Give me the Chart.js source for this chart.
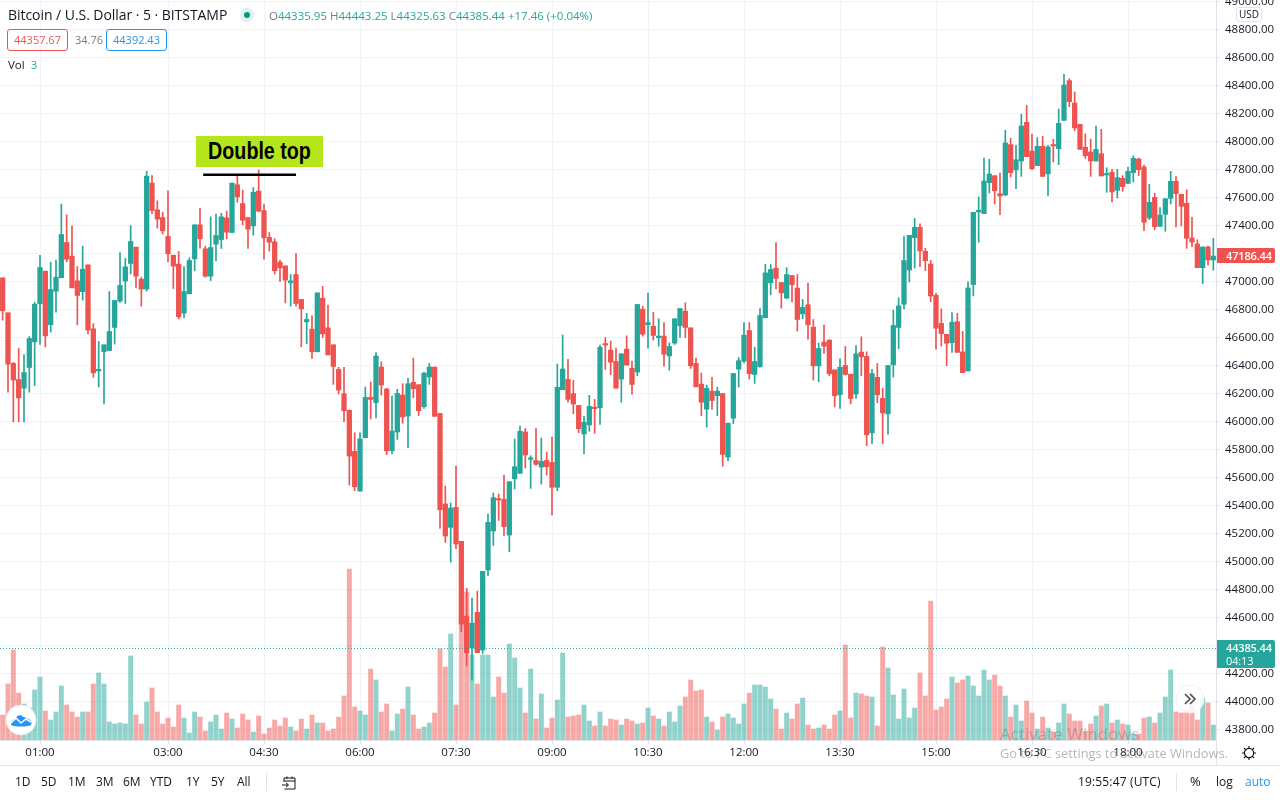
<!DOCTYPE html>
<html>
<head>
<meta charset="utf-8">
<title>Bitcoin / U.S. Dollar</title>
<script src="https://cdn.jsdelivr.net/npm/chart.js@4/dist/chart.umd.min.js"></script>
<style>
  html, body { margin: 0; padding: 0; background: #fff; overflow: hidden; }
  #wrap { position: relative; width: 1280px; height: 800px; font-family: "Open Sans", sans-serif; color: #131722; }
  #chart { position: absolute; left: 0; top: 0; }
  .t { position: absolute; white-space: nowrap; line-height: 1; }
  .box { position: absolute; box-sizing: border-box; border-radius: 3px; font-size: 11px; text-align: center; }
  .rule { position: absolute; background: #e0e3eb; }
  .range { top: 776px; font-size: 12px; color: #131722; }
  .teal { color: #26a69a; }
  .gray { color: #787b86; }
</style>
</head>
<body>
<div id="wrap">
  <canvas id="chart" width="1280" height="800"></canvas>

  <div class="t" style="left:8px;top:8px;font-size:14px;letter-spacing:-0.05px">Bitcoin / U.S. Dollar · 5 · BITSTAMP</div>
  <div style="position:absolute;left:240px;top:8px;width:14px;height:14px;border-radius:50%;background:#dff2ef"></div>
  <div style="position:absolute;left:244px;top:12px;width:6px;height:6px;border-radius:50%;background:#089981"></div>
  <div class="t" style="left:269px;top:10px;font-size:11.5px">
    <span class="gray">O</span><span class="teal">44335.95</span>
    <span class="gray">H</span><span class="teal">44443.25</span>
    <span class="gray">L</span><span class="teal">44325.63</span>
    <span class="gray">C</span><span class="teal">44385.44</span>
    <span class="teal">+17.46 (+0.04%)</span>
  </div>
  <div class="box" style="left:7px;top:29px;width:61px;height:22px;line-height:20px;border:1px solid #ef5350;color:#ef5350">44357.67</div>
  <div class="t gray" style="left:75px;top:34px;font-size:11px">34.76</div>
  <div class="box" style="left:106px;top:29px;width:61px;height:22px;line-height:20px;border:1px solid #2196f3;color:#2196f3">44392.43</div>
  <div class="t" style="left:8px;top:59px;font-size:11.5px">Vol <span class="teal" style="margin-left:3px">3</span></div>

  <div style="position:absolute;left:196px;top:136px;width:127px;height:31px;background:#b5e61d"></div>
  <div class="t" style="left:196px;top:136px;width:127px;height:31px;text-align:center;font:bold 24px/30px 'Liberation Sans',sans-serif;color:#000;transform:scaleX(0.82);transform-origin:center">Double top</div>

  <div class="box" style="left:1236px;top:7px;width:26px;height:15px;line-height:13px;font-size:10px;border:1px solid #e0e3eb;background:#fff">USD</div>

  <div class="box" style="left:1217px;top:248px;width:58px;height:15px;line-height:15px;font-size:11px;font-weight:600;background:#ef5350;color:#fff;border-radius:0 2px 2px 0;text-align:left;padding-left:9px;letter-spacing:-0.15px">47186.44</div>
  <div class="box" style="left:1217px;top:640px;width:58px;height:28px;background:#26a69a;color:#fff;font-size:11px;font-weight:600;line-height:13px;padding-top:1px;border-radius:0 2px 2px 0;text-align:left;padding-left:9px;letter-spacing:-0.15px">44385.44<br><span style="font-weight:400">04:13</span></div>

  <svg style="position:absolute;left:5px;top:704px" width="32" height="32">
    <circle cx="16" cy="16" r="15" fill="#fff" stroke="#e8eaf0"/>
    <path d="M6 21 C6 17 8 15 10 15 C12 11 16 10 18 13 C20 13 22 14 23 15 C26 15 27 18 26 21 C22 23 10 23 6 21 Z" fill="#2196f3"/>
    <path d="M6 19 L11 14 L16 19 L21 15 L26 18" fill="none" stroke="#fff" stroke-width="1.5"/>
  </svg>
  <svg style="position:absolute;left:1175px;top:684px" width="30" height="30">
    <circle cx="15" cy="15" r="14" fill="#fff" fill-opacity="0.85" stroke="#eef0f4"/>
    <path d="M10 10 L15 15 L10 20 M15 10 L20 15 L15 20" fill="none" stroke="#4a4e59" stroke-width="1.6"/>
  </svg>

  <div class="rule" style="left:1216px;top:740px;width:1px;height:25px"></div>
  <div class="rule" style="left:0;top:765px;width:1280px;height:1px"></div>
  <svg style="position:absolute;left:1241px;top:745px" width="16" height="16">
    <circle cx="8" cy="8" r="4.6" fill="none" stroke="#131722" stroke-width="1.2"/>
    <path d="M8 1V3.4M8 12.6V15M1 8H3.4M12.6 8H15M3 3L4.8 4.8M11.2 11.2L13 13M13 3L11.2 4.8M4.8 11.2L3 13" stroke="#131722" stroke-width="1.2"/>
  </svg>

  <div class="t range" style="left:15px">1D</div>
  <div class="t range" style="left:41px">5D</div>
  <div class="t range" style="left:68px">1M</div>
  <div class="t range" style="left:96px">3M</div>
  <div class="t range" style="left:123px">6M</div>
  <div class="t range" style="left:150px">YTD</div>
  <div class="t range" style="left:186px">1Y</div>
  <div class="t range" style="left:211px">5Y</div>
  <div class="t range" style="left:237px">All</div>
  <div class="rule" style="left:266px;top:773px;width:1px;height:18px"></div>
  <svg style="position:absolute;left:281px;top:775px" width="16" height="15">
    <path d="M3 7V3H14V14H3.5M3 6H14M6 1.5V4M11 1.5V4M1 10H7M5 8L7.5 10L5 12" fill="none" stroke="#131722" stroke-width="1"/>
  </svg>
  <div class="t" style="left:1078px;top:776px;font-size:12px;letter-spacing:0.15px">19:55:47 (UTC)</div>
  <div class="rule" style="left:1176px;top:773px;width:1px;height:18px"></div>
  <div class="t" style="left:1190px;top:775px;font-size:13px">%</div>
  <div class="t" style="left:1216px;top:776px;font-size:12px">log</div>
  <div class="t" style="left:1245px;top:776px;font-size:12px;color:#2196f3">auto</div>

  <div class="t" style="left:1000px;top:725px;font-size:17px;color:rgba(110,110,110,0.38)">Activate Windows</div>
  <div class="t" style="left:1000px;top:747px;font-size:12.8px;color:rgba(110,110,110,0.5)">Go to PC settings to activate Windows.</div>
</div>

<script>
var tickLabels = ["01:00", "03:00", "04:30", "06:00", "07:30", "09:00", "10:30", "12:00", "13:30", "15:00", "16:30", "18:00"];

var opens = [
  47026,46777,46415,46300,46238,46386,46569,46841,47074,46691,
  46931,47027,47279,47181,47005,46927,47119,46662,46362,46498,
  46507,46672,46860,47003,47129,47246,47017,46946,47703,47512,
  47457,47322,47188,47124,46774,46912,47162,47405,47234,47038,
  47267,47300,47455,47350,47691,47557,47457,47398,47646,47507,
  47315,47284,47138,47112,46991,47050,46872,46712,46660,46498,
  46881,46669,46548,46372,46199,46080,45787,45503,45884,46172,
  46134,46389,46232,45791,45925,46189,46039,46280,46263,46106,
  46318,46389,46058,45411,45244,45387,45144,44610,44382,44637,
  44368,44939,45218,45449,45444,45189,45591,45630,45925,45730,
  45722,45675,45722,45708,45530,46227,46301,46199,46115,45911,
  45975,46099,46099,46553,46510,46429,46303,46517,46381,46353,
  46803,46691,46681,46598,46610,46469,46560,46684,46788,46669,
  46415,46267,46088,46217,46184,46200,45746,46024,46374,46431,
  46650,46336,46391,46741,46991,47096,46993,46881,47043,46953,
  46769,46834,46674,46398,46567,46581,46369,46191,46400,46338,
  46196,46496,46465,45919,46315,46165,46055,46405,46672,46838,
  47082,47313,47387,47216,47125,46901,46701,46623,46563,46713,
  46497,46361,46978,47497,47485,47706,47756,47628,47618,47978,
  47797,47861,48137,47932,47828,47966,47770,47975,47949,48151,
  48435,48275,48123,47959,47925,47861,47913,47761,47780,47651,
  47737,47701,47778,47875,47818,47454,47601,47394,47480,47594,
  47716,47623,47559,47311,47268,47099,47247,47154
];
var closes = [
  46791,46410,46296,46169,46350,46593,46838,47100,46612,46943,
  47031,47336,47160,46955,46900,47088,46653,46348,46369,46548,
  46643,46865,46972,47105,47286,47038,46946,47753,47507,47446,
  47362,47198,47110,46748,46929,47150,47405,47305,47038,47243,
  47329,47462,47353,47703,47605,47438,47374,47638,47503,47312,
  47281,47077,47098,47010,47005,46843,46805,46729,46498,46919,
  46626,46476,46393,46225,46077,45753,45534,45875,46172,46158,
  46468,46261,45791,45932,46201,46032,46270,46234,46077,46346,
  46389,46037,45370,45182,45382,45125,44553,44349,44560,44349,
  44930,45280,45456,45439,45249,45570,45677,45930,45761,45734,
  45694,45715,45677,45530,46244,46375,46158,46125,45949,45994,
  46108,46092,46530,46546,46424,46238,46484,46403,46265,46836,
  46624,46707,46615,46610,46481,46536,46734,46807,46672,46398,
  46248,46138,46238,46150,46217,45765,45988,46343,46434,46617,
  46341,46429,46757,47062,47086,47022,46919,47050,46977,46729,
  46815,46691,46398,46522,46538,46341,46184,46388,46336,46165,
  46484,46462,45905,46343,46191,46062,46400,46686,46826,47150,
  47330,47387,47218,47149,46897,46666,46628,46559,46709,46494,
  46349,46954,47494,47509,47718,47768,47649,47611,47990,47778,
  47870,48111,47892,47806,47966,47751,47961,47968,48130,48404,
  48285,48097,47944,47899,47861,47944,47754,47768,47640,47742,
  47678,47787,47880,47799,47423,47566,47392,47475,47592,47716,
  47628,47537,47309,47282,47099,47247,47154,47182
];
var highs = [
  47026,46777,46422,46522,46479,46607,46853,47188,47074,47138,
  47153,47553,47476,47396,47107,47253,47119,46700,46572,46548,
  46929,46865,47207,47165,47400,47246,47031,47788,47757,47577,
  47496,47648,47188,47215,47107,47169,47405,47522,47253,47462,
  47481,47488,47503,47703,47760,47653,47457,47672,47796,47553,
  47350,47307,47153,47112,47050,47200,46872,46772,46755,46919,
  46965,46831,46548,46387,46387,46084,45920,45920,46246,46282,
  46492,46427,46237,46182,46230,46270,46308,46453,46263,46351,
  46415,46389,46058,45539,45418,45680,45144,44808,44739,44789,
  44930,45339,45489,45482,45618,45570,45875,45968,45951,45756,
  45951,45882,45782,45889,46411,46618,46444,46294,46115,46039,
  46187,46158,46546,46600,46574,46524,46484,46612,46431,46836,
  46824,46917,46779,46734,46707,46562,46734,46807,46848,46669,
  46453,46346,46260,46315,46246,46200,45988,46343,46457,46707,
  46707,46531,46807,47124,47122,47279,46993,47100,47043,47050,
  46872,46988,46729,46560,46688,46586,46369,46448,46536,46338,
  46543,46605,46498,46372,46415,46238,46400,46796,46884,47324,
  47330,47451,47413,47237,47151,46916,46804,46623,46778,46773,
  46644,46997,47494,47604,47882,47873,47756,47775,48080,48023,
  47973,48194,48259,48054,48028,48037,47973,48016,48232,48480,
  48449,48354,48123,48054,48018,48111,48087,47813,47801,47801,
  47756,47818,47897,47882,47832,47694,47630,47528,47592,47787,
  47749,47623,47654,47459,47299,47247,47254,47309
];
var lows = [
  46724,46210,45998,45998,45998,46210,46257,46550,46534,46638,
  46781,47027,47141,46955,46691,46867,46626,46315,46248,46126,
  46507,46553,46850,46843,47053,46955,46824,46931,47484,47381,
  47338,47141,46950,46734,46741,46912,47077,47238,47031,47007,
  47148,47236,47305,47350,47567,47405,47236,47331,47498,47160,
  47217,47053,47000,46848,46824,46824,46534,46555,46450,46498,
  46600,46476,46265,46196,45999,45546,45506,45503,45884,46018,
  46025,46189,45763,45770,45872,45987,45813,46170,46042,46094,
  46265,46037,45237,45137,44996,45091,44499,44253,44153,44349,
  44342,44899,45115,45294,45184,45070,45518,45630,45668,45522,
  45687,45553,45618,45332,45506,46227,46139,46056,45920,45770,
  45930,45915,45980,46372,46334,46238,46138,46403,46196,46326,
  46610,46524,46581,46538,46396,46367,46550,46600,46598,46379,
  46248,46041,45960,46086,46041,45681,45719,45984,46246,46419,
  46303,46272,46388,46741,46905,46948,46810,46877,46855,46646,
  46734,46588,46296,46284,46486,46326,46105,46093,46331,46126,
  46165,46326,45827,45841,46134,45841,45910,46317,46519,46805,
  46997,47097,47106,47078,46856,46516,46539,46399,46494,46494,
  46349,46361,46897,47282,47485,47632,47554,47478,47613,47747,
  47663,47751,47892,47797,47828,47751,47613,47854,47835,48151,
  48249,48078,47944,47880,47751,47861,47754,47637,47568,47597,
  47644,47701,47711,47756,47363,47442,47370,47392,47359,47554,
  47390,47397,47237,47249,47099,46985,47118,47082
];
var volumes = [
  25,56,90,47,36,32,50,63,29,20,
  28,54,35,28,23,28,28,56,67,56,
  18,16,17,16,84,25,16,38,52,28,
  16,22,13,35,22,7,28,23,9,18,
  25,11,27,21,12,26,20,8,24,6,
  12,20,14,22,13,9,21,11,25,17,
  17,9,11,23,44,171,33,29,25,71,
  60,28,36,9,26,31,53,25,11,13,
  17,27,91,73,106,35,120,148,85,56,
  85,85,43,63,47,96,82,52,27,71,
  21,46,12,22,40,87,23,24,25,35,
  19,14,28,14,21,20,15,21,19,16,
  17,32,24,21,14,28,18,34,43,60,
  49,50,23,18,10,23,26,22,16,36,
  47,55,55,53,41,31,11,27,21,36,
  42,15,11,12,15,11,25,29,95,22,
  47,46,44,43,14,93,72,45,21,51,
  22,32,67,44,139,30,33,41,63,57,
  60,64,54,44,70,60,65,54,44,23,
  35,19,39,27,11,23,12,8,17,36,
  26,19,19,9,16,24,34,36,17,20,
  16,15,6,6,22,23,17,27,43,70,
  28,27,30,47,20,42,37,15
];

var lastPrice = 44385.44;
var doubleTopLevel = 47762;
var doubleTopFrom = 37.6;
var doubleTopTo = 55;

// 5 minute bars, first one at 00:25
var times = opens.map(function (v, i) {
  var m = 25 + i * 5;
  var h = Math.floor(m / 60);
  return (h < 10 ? "0" : "") + h + ":" + (m % 60 < 10 ? "0" : "") + (m % 60);
});

var up = "#26a69a", down = "#ef5350";
var candleColors = opens.map(function (o, i) { return closes[i] >= o ? up : down; });
var volumeColors = opens.map(function (o, i) {
  return closes[i] >= o ? "rgba(38,166,154,0.5)" : "rgba(239,83,80,0.5)";
});

var overlayLines = {
  id: "overlayLines",
  afterDatasetsDraw: function (chart) {
    var c = chart.ctx, a = chart.chartArea, x = chart.scales.x, y = chart.scales.y;
    var priceY = Math.round(y.getPixelForValue(lastPrice)) + 0.5;
    c.save();
    c.strokeStyle = "#26a69a";
    c.lineWidth = 1;
    c.setLineDash([1, 2]);
    c.beginPath();
    c.moveTo(a.left, priceY);
    c.lineTo(a.right, priceY);
    c.stroke();
    c.setLineDash([]);
    c.strokeStyle = "#000";
    c.lineWidth = 2.5;
    c.beginPath();
    c.moveTo(x.getPixelForValue(doubleTopFrom), y.getPixelForValue(doubleTopLevel));
    c.lineTo(x.getPixelForValue(doubleTopTo), y.getPixelForValue(doubleTopLevel));
    c.stroke();
    c.restore();
  }
};

new Chart(document.getElementById("chart"), {
  type: "bar",
  data: {
    labels: times,
    datasets: [
      { data: volumes, yAxisID: "vol", grouped: false, order: 3, barThickness: 4.3, backgroundColor: volumeColors },
      { data: lows.map(function (l, i) { return [l, highs[i]]; }), yAxisID: "y", grouped: false, order: 2, barThickness: 1, backgroundColor: candleColors },
      { data: opens.map(function (o, i) { return [o, closes[i]]; }), yAxisID: "y", grouped: false, order: 1, barThickness: 4.6, minBarLength: 1.5, backgroundColor: candleColors }
    ]
  },
  plugins: [overlayLines],
  options: {
    responsive: false,
    animation: false,
    layout: { padding: 0 },
    plugins: { legend: { display: false }, tooltip: { enabled: false } },
    scales: {
      x: {
        grid: { color: "#f0f3fa", offset: false, tickColor: "#e0e3eb", tickLength: 4 },
        border: { color: "#e0e3eb" },
        ticks: { autoSkip: false, maxRotation: 0, minRotation: 0, padding: 2, color: "#131722", font: { family: "Open Sans", size: 11.5 } },
        afterBuildTicks: function (scale) {
          scale.ticks = scale.ticks.filter(function (t) { return tickLabels.indexOf(times[t.value]) >= 0; });
        },
        afterFit: function (scale) { scale.height = 60; scale.paddingLeft = 0; scale.paddingRight = 0; }
      },
      y: {
        position: "right",
        min: 43725,
        max: 49011,
        grid: { color: "#f0f3fa", tickColor: "#e0e3eb", tickLength: 4 },
        border: { color: "#e0e3eb" },
        ticks: {
          stepSize: 200,
          includeBounds: false,
          padding: 5,
          color: "#131722",
          font: { family: "Open Sans", size: 11.5 },
          callback: function (v) { return v.toFixed(2); }
        },
        afterFit: function (scale) { scale.width = 64; scale.paddingTop = 0; scale.paddingBottom = 0; }
      },
      vol: { display: false, min: 0, max: 740 }
    }
  }
});
</script>
</body>
</html>
